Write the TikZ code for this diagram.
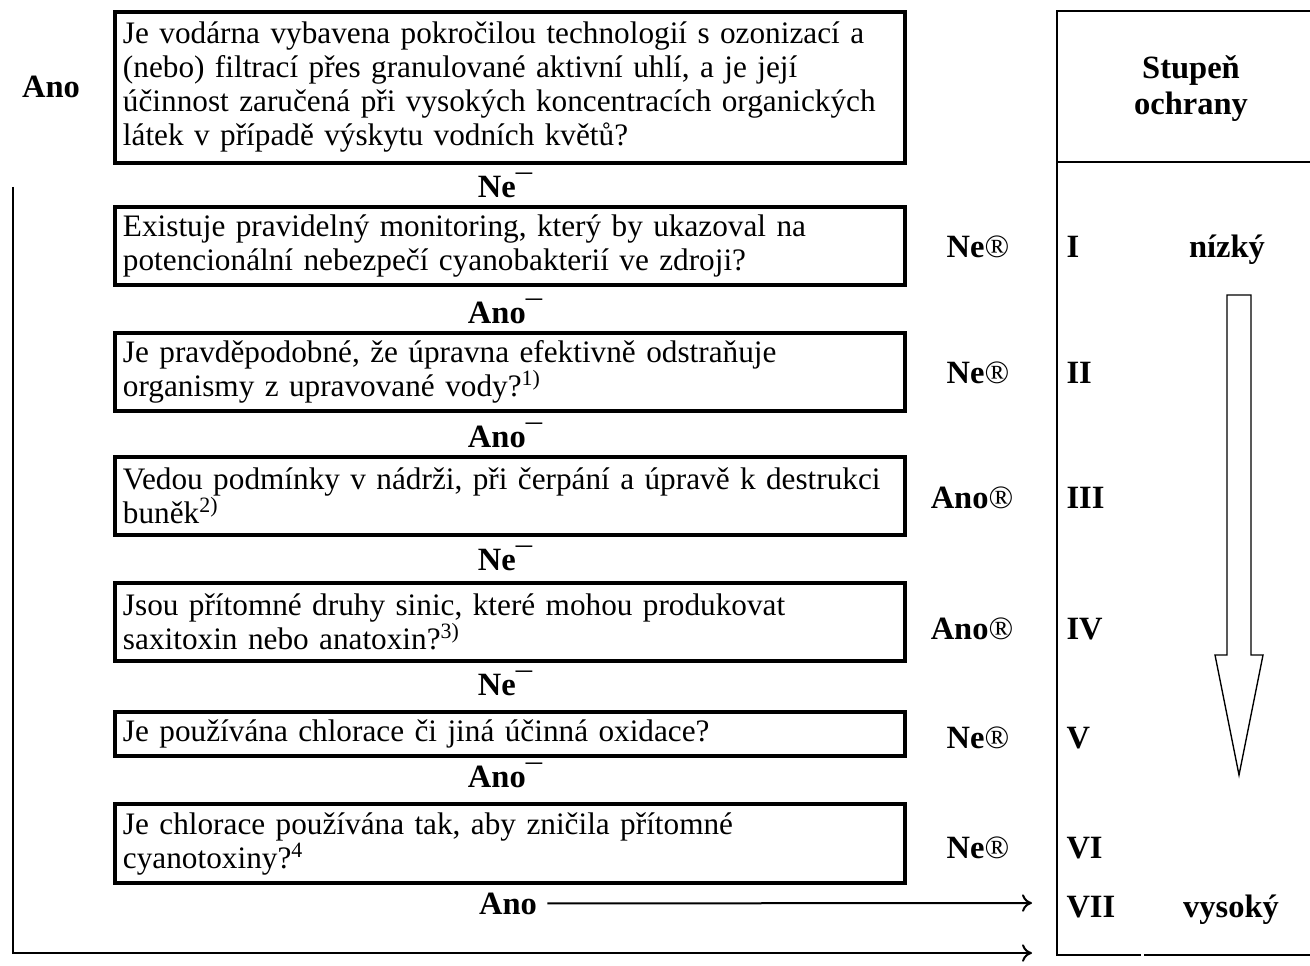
\documentclass[tikz,border=0pt]{standalone}
\usepackage{fontspec}
\setmainfont{Liberation Serif}
\usetikzlibrary{arrows.meta}
\newcommand{\dn}{{\mdseries ¯}}
\newcommand{\rt}{{\mdseries ®}}
\begin{document}
\begin{tikzpicture}[x=0.4pt,y=-0.4pt,
  qbox/.style={draw=black, line width=1.8pt, text width=309.6pt, align=left,
    inner xsep=3.2pt, inner ysep=0pt, font=\fontsize{12.5}{13.6}\selectfont},
  lbl/.style={font=\fontsize{13}{14.4}\selectfont\bfseries, anchor=base},
  thin/.style={line width=0.8pt},
  tip/.style={-{Computer Modern Rightarrow[length=4pt,width=7pt]}}]
\tikzstyle{every node}+=[inner sep=0pt]
\useasboundingbox (0,0) rectangle (1310,965);
% otazky
\node [qbox, minimum height=60.4pt] (q1) at (510,87.5) {Je vodárna vybavena pokročilou technologií s ozonizací a\\(nebo) filtrací přes granulované aktivní uhlí, a je její\\účinnost zaručená při vysokých koncentracích organických\\látek v případě výskytu vodních květů?};
\node [qbox, minimum height=31.2pt] (q2) at (510,246) {Existuje pravidelný monitoring, který by ukazoval na\\potencionální nebezpečí cyanobakterií ve zdroji?};
\node [qbox, minimum height=31.2pt] (q3) at (510,372) {Je pravděpodobné, že úpravna efektivně odstraňuje\\organismy z upravované vody?\textsuperscript{1)}};
\node [qbox, minimum height=31.2pt] (q4) at (510,496) {Vedou podmínky v nádrži, při čerpání a úpravě k destrukci\\buněk\textsuperscript{2)}};
\node [qbox, minimum height=31.2pt] (q5) at (510,622) {Jsou přítomné druhy sinic, které mohou produkovat\\saxitoxin nebo anatoxin?\textsuperscript{3)}};
\node [qbox, minimum height=17.6pt] (q6) at (510,734) {Je používána chlorace či jiná účinná oxidace?};
\node [qbox, minimum height=31.6pt] (q7) at (510,843.5) {Je chlorace používána tak, aby zničila přítomné\\cyanotoxiny?\textsuperscript{4}};
% odpovedi dolu
\node [lbl] (a0) at (51,98) {Ano};
\node [lbl] (d1) at (505,198) {Ne\dn};
\node [lbl] (d2) at (505,323) {Ano\dn};
\node [lbl] (d3) at (505,447) {Ano\dn};
\node [lbl] (d4) at (505,570) {Ne\dn};
\node [lbl] (d5) at (505,695) {Ne\dn};
\node [lbl] (d6) at (505,787) {Ano\dn};
\node [lbl] (d7) at (508,914) {Ano};
% odpovedi doprava
\node [lbl] (r2) at (978,258) {Ne\rt};
\node [lbl] (r3) at (978,383) {Ne\rt};
\node [lbl] (r4) at (972,508) {Ano\rt};
\node [lbl] (r5) at (972,639) {Ano\rt};
\node [lbl] (r6) at (978,748) {Ne\rt};
\node [lbl] (r7) at (978,858) {Ne\rt};
% stupne
\node [lbl, align=center, anchor=center] (hdr) at (1191,89) {Stupeň\\ochrany};
\node [lbl, anchor=base west] (s1) at (1066,258) {I};
\node [lbl, anchor=base west] (s2) at (1066,383) {II};
\node [lbl, anchor=base west] (s3) at (1066,508) {III};
\node [lbl, anchor=base west] (s4) at (1066,639) {IV};
\node [lbl, anchor=base west] (s5) at (1066,748) {V};
\node [lbl, anchor=base west] (s6) at (1066,858) {VI};
\node [lbl, anchor=base west] (s7) at (1066,917) {VII};
\node [lbl] (low) at (1227,258) {nízký};
\node [lbl] (high) at (1231,917) {vysoký};
% tabulka
\draw [thin] (1310,11) -- (1057,11) -- (1057,955) -- (1141,955);
\draw [thin] (1144,955) -- (1310,955);
\draw [thin] (1057,162) -- (1310,162);
% velka sipka
\draw [line width=0.55pt] (1227,295) -- (1251,295) -- (1251,655) -- (1263,655)
  -- (1239,775) -- (1215,655) -- (1227,655) -- cycle;
% spojnice
\coordinate (toVII) at (1032,903);
\coordinate (lTop) at (13,187);
\coordinate (lBot) at (13,953);
\coordinate (lEnd) at (1032,953);
\draw [thin, tip, shorten <=4pt] (d7.east) -- (toVII);
\draw [thin, tip] (lTop) -- (lBot) -- (lEnd);
\end{tikzpicture}
\end{document}
